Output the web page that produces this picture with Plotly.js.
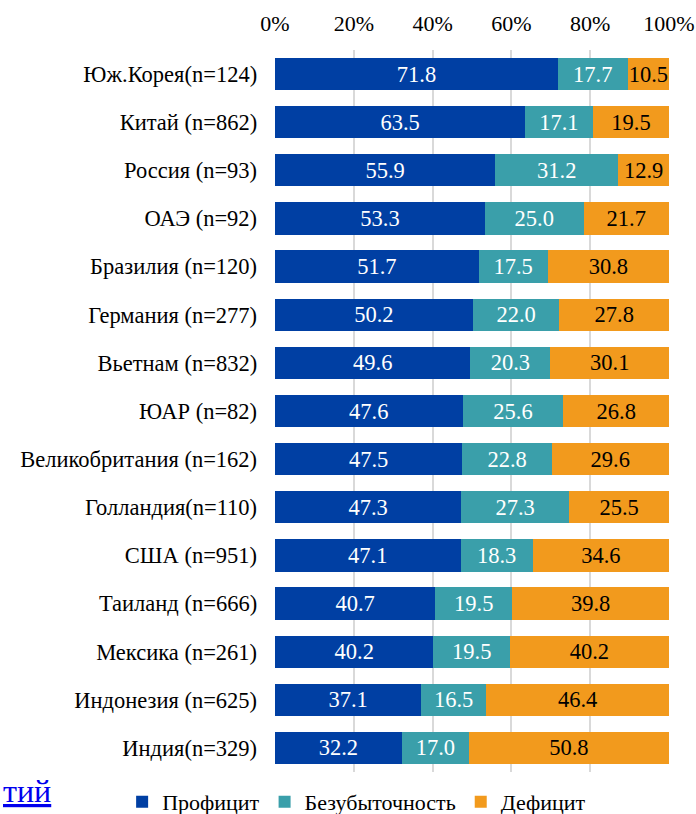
<!DOCTYPE html>
<html>
<head>
<meta charset="utf-8">
<script src="https://cdn.plot.ly/plotly-3.0.1.min.js"></script>
<style>html,body{margin:0;padding:0;background:#fff;}#chart{width:696px;height:814px;}</style>
</head>
<body>
<div id="chart"></div>
<script>
const categories = [
  "Юж.Корея(n=124)", "Китай (n=862)", "Россия (n=93)", "ОАЭ (n=92)",
  "Бразилия (n=120)", "Германия (n=277)", "Вьетнам (n=832)", "ЮАР (n=82)",
  "Великобритания (n=162)", "Голландия(n=110)", "США (n=951)", "Таиланд (n=666)",
  "Мексика (n=261)", "Индонезия (n=625)", "Индия(n=329)"
];
const profit    = [71.8, 63.5, 55.9, 53.3, 51.7, 50.2, 49.6, 47.6, 47.5, 47.3, 47.1, 40.7, 40.2, 37.1, 32.2];
const breakeven = [17.7, 17.1, 31.2, 25.0, 17.5, 22.0, 20.3, 25.6, 22.8, 27.3, 18.3, 19.5, 19.5, 16.5, 17.0];
const deficit   = [10.5, 19.5, 12.9, 21.7, 30.8, 27.8, 30.1, 26.8, 29.6, 25.5, 34.6, 39.8, 40.2, 46.4, 50.8];
const seriesNames = ["Профицит", "Безубыточность", "Дефицит"];
const tickVals = [0, 20, 40, 60, 80, 100];
const tickText = ["0%", "20%", "40%", "60%", "80%", "100%"];

const FONT = "'Liberation Serif', Tinos, 'Times New Roman', 'DejaVu Serif', serif";
const colors = ["#003FA3", "#3A9FAA", "#F29A1D"];
const textColors = ["#ffffff", "#ffffff", "#000000"];
const vals = [profit, breakeven, deficit];

const traces = vals.map((v, i) => ({
  type: "bar",
  orientation: "h",
  name: seriesNames[i],
  x: v,
  y: categories,
  marker: {color: colors[i]},
  text: v.map(n => n.toFixed(1)),
  texttemplate: "%{text}",
  textposition: "inside",
  insidetextanchor: "middle",
  constraintext: "none",
  textangle: 0,
  textfont: {family: FONT, size: 22.5, color: textColors[i]},
  hoverinfo: "skip"
}));

const layout = {
  width: 696, height: 814,
  margin: {l: 275, r: 27, t: 50, b: 42, autoexpand: false},
  barmode: "stack",
  bargap: 0.33,
  paper_bgcolor: "#ffffff",
  plot_bgcolor: "#ffffff",
  font: {family: FONT, size: 22, color: "#000000"},
  showlegend: true,
  legend: {
    orientation: "h",
    x: -0.388, xanchor: "left", y: -0.0415, yanchor: "middle",
    font: {family: FONT, size: 22, color: "#000"},
    traceorder: "normal", itemwidth: 30, tracegroupgap: 0
  },
  xaxis: {
    side: "top", range: [0, 100], tickvals: tickVals, ticktext: tickText,
    showgrid: true, gridcolor: "#D9D9D9", gridwidth: 2,
    zeroline: false, showline: false, ticks: "",
    ticklabelstandoff: 14,
    tickfont: {family: FONT, size: 22, color: "#000"},
    fixedrange: true
  },
  yaxis: {
    autorange: "reversed", type: "category",
    showgrid: false, zeroline: false, showline: false, ticks: "",
    ticksuffix: "   ",
    tickfont: {family: FONT, size: 22.5, color: "#000"},
    fixedrange: true
  },
  annotations: [{
    xref: "paper", yref: "paper", x: -0.695, y: -0.026, xanchor: "left", yanchor: "middle",
    text: "<u>тий</u>", showarrow: false,
    font: {family: FONT, size: 32, color: "#0000EE"}
  }]
};

Plotly.newPlot("chart", traces, layout, {displayModeBar: false, staticPlot: true});
</script>
</body>
</html>
